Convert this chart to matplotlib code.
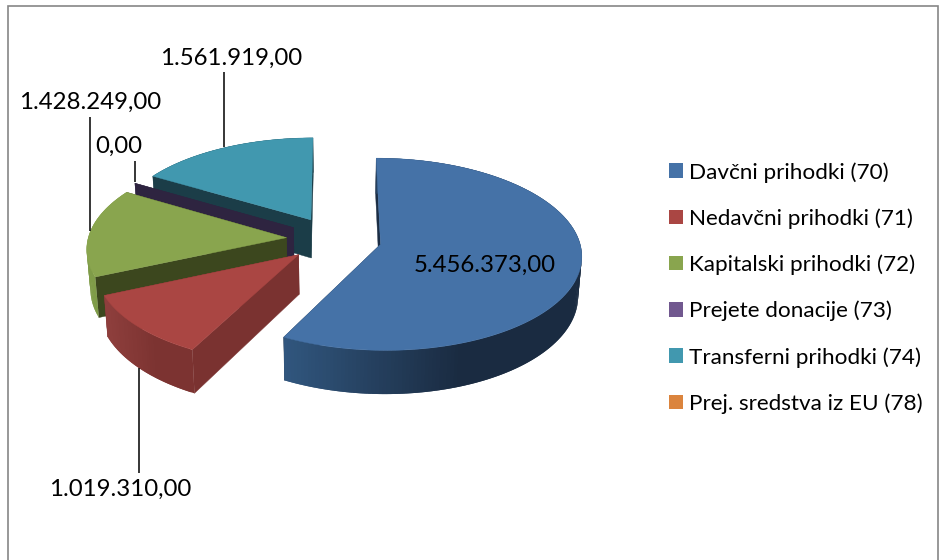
import matplotlib
matplotlib.use("Agg")
import matplotlib.pyplot as plt
from matplotlib.patches import Patch, Polygon, Rectangle
import numpy as np

categories = ["Davčni prihodki (70)", "Nedavčni prihodki (71)", "Kapitalski prihodki (72)",
              "Prejete donacije (73)", "Transferni prihodki (74)", "Prej. sredstva iz EU (78)"]
values = [5456373, 1019310, 1428249, 0, 1561919, 0]

top_colors = ["#4572a7", "#aa4643", "#89a54e", "#71588f", "#4198af", "#db843d"]
inner_colors = ["#1b2d44", "#7a3230", "#3c471e", "#2e2440", "#1b3d48", "#db843d"]
wall_left = ["#31577f", "#8f3f3d", "#7f9c48", "#2e2440", "#1b3d48", "#db843d"]
wall_right = ["#1a2b41", "#7c3331", "#7f9c48", "#2e2440", "#1b3d48", "#db843d"]

# label text position and leader line (x, y0, y1), pixels of the 940x560 picture
label_pos = [(485, 265), (120, 489), (90, 102), (119, 146), (231, 58)]
leaders = [None, (139, 368, 473), (90, 117, 231), (135, 161, 182), (224, 72, 147)]

plt.rcParams['font.family'] = ['Lato', 'DejaVu Sans']

# fake 3d pie geometry
cx, cy = 334, 239
rx, ry = 198.5, 94
persp = 0.102
explode = 0.24
depth = 39
shrink = 0.985


def project(x, y, low=False):
    p = 1 / (1 + persp * y)
    sx = rx * x * p
    if low:
        return cx + sx * shrink, cy - ry * y * p + depth * p
    return cx + sx, cy - ry * y * p


def mix(c0, c1, t):
    a = np.array(matplotlib.colors.to_rgb(c0))
    b = np.array(matplotlib.colors.to_rgb(c1))
    return tuple(a + (b - a) * t)


def draw_slice(ax, a0, a1, i):
    # a0 > a1 in degrees, running clockwise
    mid = np.radians((a0 + a1) / 2)
    ox, oy = explode * np.cos(mid), explode * np.sin(mid)
    ang = np.radians(np.linspace(a0, a1, max(int(abs(a1 - a0)) + 2, 2)))
    xs = ox + np.cos(ang)
    ys = oy + np.sin(ang)

    # the two flat inner faces
    for px, py in [(xs[0], ys[0]), (xs[-1], ys[-1])]:
        quad = [project(ox, oy), project(px, py), project(px, py, True), project(ox, oy, True)]
        ax.add_patch(Polygon(quad, closed=True, facecolor=inner_colors[i], edgecolor=inner_colors[i], lw=0.3))

    # outer wall, coloured by x so it looks shaded
    if len(ang) > 2:
        pts = [project(x, y) for x, y in zip(xs, ys)]
        low = [project(x, y, True) for x, y in zip(xs, ys)]
        x_all = [p[0] for p in pts]
        for k in range(len(pts) - 1):
            t = np.clip((pts[k][0] - min(x_all)) / (0.6 * (max(x_all) - min(x_all))), 0, 1)
            col = mix(wall_left[i], wall_right[i], t)
            # overlap the next strip a bit, hides the seams
            m = min(k + 2, len(pts) - 1)
            ax.add_patch(Polygon(pts[k:m + 1][::-1] + low[k:m + 1], closed=True,
                                 facecolor=col, edgecolor="none"))

        top = [project(ox, oy)] + pts
        ax.add_patch(Polygon(top, closed=True, facecolor=top_colors[i], edgecolor=top_colors[i], lw=0.3))


def fmt(v):
    s = f"{v:,.2f}"
    return s.replace(",", "#").replace(".", ",").replace("#", ".")


fig = plt.figure(figsize=(9.4, 5.6), dpi=100)
ax = fig.add_axes([0, 0, 1, 1])
ax.set_xlim(0, 940)
ax.set_ylim(560, 0)
ax.axis("off")

ax.add_patch(Rectangle((8, 6), 930, 570, facecolor="white", edgecolor="#868686", lw=1.2))

# angles first, then draw back to front
total = sum(values)
starts, a = [], 90.0
for v in values:
    starts.append((a, a - 360.0 * v / total))
    a -= 360.0 * v / total

for i in [4, 3, 2, 1, 0]:
    draw_slice(ax, starts[i][0], starts[i][1], i)

for i in range(5):
    ax.text(label_pos[i][0], label_pos[i][1], fmt(values[i]), fontsize=17.3, color="black",
            ha="center", va="center")
    if leaders[i]:
        ax.plot([leaders[i][0]] * 2, leaders[i][1:], color="black", lw=1.1, solid_capstyle="butt")

handles = [Patch(facecolor=c, edgecolor="none", label=n) for c, n in zip(top_colors, categories)]
ax.legend(handles=handles, loc="upper left", bbox_to_anchor=(669, 162), bbox_transform=ax.transData,
          frameon=False, fontsize=16.2, handlelength=0.62, handleheight=0.62, handletextpad=0.28,
          labelspacing=1.14, borderpad=0, borderaxespad=0)

fig.savefig("out.png", dpi=100)
